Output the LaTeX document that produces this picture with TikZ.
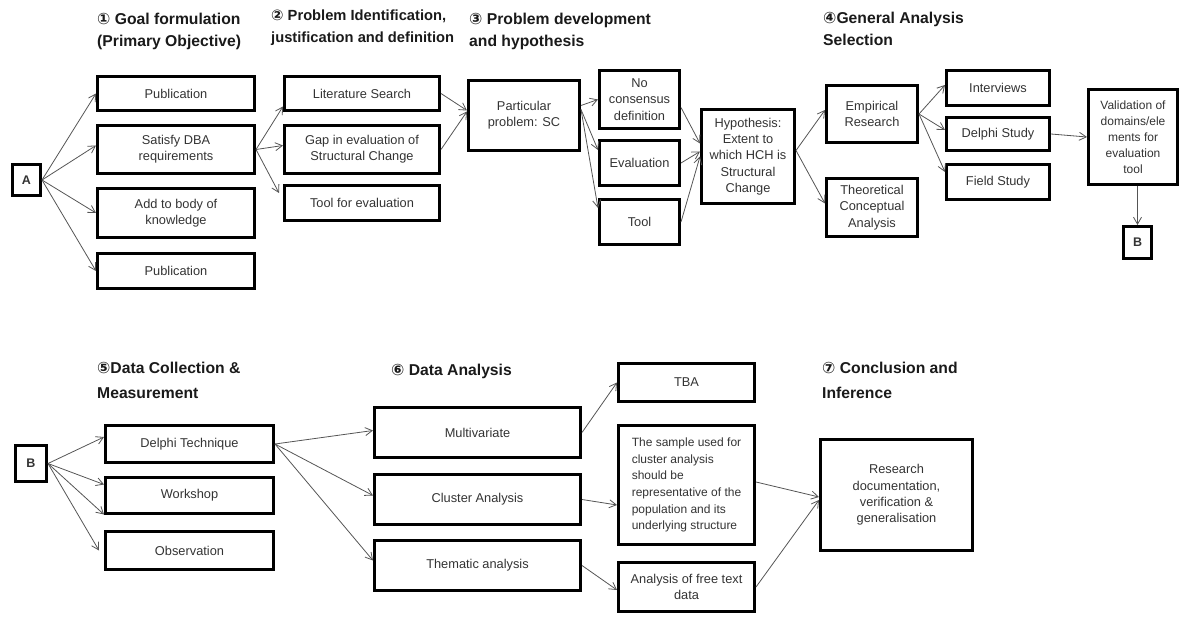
\documentclass[tikz,border=0pt]{standalone}
\usepackage{fontspec}
\setmainfont{Liberation Sans}
\newfontfamily\circfont{DejaVu Sans}
\usetikzlibrary{arrows.meta}
\definecolor{boxtext}{HTML}{333333}
\definecolor{headtext}{HTML}{1A1A1A}
\definecolor{linkgray}{HTML}{555555}
\newcommand{\cnum}[1]{{\circfont #1}}
\begin{document}
\begin{tikzpicture}[x=1pt,y=-1pt,
  box/.style={draw=black, line width=3pt, inner sep=2pt, align=center,
    text=boxtext, font=\fontsize{12.8}{16.3}\selectfont},
  heading/.style={anchor=north west, inner sep=0pt, align=left, text=headtext,
    font=\fontsize{15.7}{22}\selectfont\bfseries},
  lowheading/.style={heading, font=\fontsize{15.7}{25}\selectfont\bfseries},
  link/.style={draw=linkgray, line width=0.8pt,
    -{Straight Barb[length=7pt,width=8pt,line width=0.8pt]}}
]
\useasboundingbox (0,0) rectangle (1183,617);

% ---- stage headings
\node[heading] (h1) at (97,13)  {\cnum{①} Goal formulation\\(Primary Objective)};
\node[heading, font=\fontsize{14.7}{22}\selectfont\bfseries] (h2) at (271,10)  {\cnum{②} Problem Identification,\\justification and definition};
\node[heading] (h3) at (469,13) {\cnum{③} Problem development\\and hypothesis};
\node[heading] (h4) at (823,12) {\cnum{④}General Analysis\\Selection};
\node[lowheading] (h5) at (97,362) {\cnum{⑤}Data Collection \&\\Measurement};
\node[lowheading] (h6) at (391,364) {\cnum{⑥} Data Analysis};
\node[lowheading] (h7) at (822,362) {\cnum{⑦} Conclusion and\\Inference};

% ---- upper flow
\node[box, minimum width=28, minimum height=31, font=\fontsize{12.5}{16}\selectfont\bfseries] (A) at (26.5,180) {A};
\node[box, minimum width=157, minimum height=34] (pub1) at (176,93.5) {Publication};
\node[box, minimum width=157, minimum height=48] (dba) at (176,149.5) {Satisfy DBA\\requirements};
\node[box, minimum width=157, minimum height=49] (body) at (176,213) {Add to body of\\knowledge};
\node[box, minimum width=157, minimum height=35] (pub2) at (176,271) {Publication};

\node[box, minimum width=155, minimum height=34] (lit) at (362,93.5) {Literature Search};
\node[box, minimum width=155, minimum height=48] (gap) at (362,149.5) {Gap in evaluation of\\Structural Change};
\node[box, minimum width=155, minimum height=35] (toolev) at (362,203) {Tool for evaluation};

\node[box, minimum width=111, minimum height=70] (part) at (524,115.5) {Particular\\problem: SC};

\node[box, minimum width=80, minimum height=58] (nocons) at (639.5,99.5) {No\\consensus\\definition};
\node[box, minimum width=80, minimum height=45] (evalb) at (639.5,163) {Evaluation};
\node[box, minimum width=80, minimum height=45] (toolb) at (639.5,222) {Tool};

\node[box, minimum width=93, minimum height=94] (hyp) at (748,156.5) {Hypothesis:\\Extent to\\which HCH is\\Structural\\Change};

\node[box, minimum width=91, minimum height=57] (emp) at (872,114) {Empirical\\Research};
\node[box, minimum width=91, minimum height=58] (theo) at (872,207.5) {Theoretical\\Conceptual\\Analysis};

\node[box, minimum width=103, minimum height=35] (interv) at (998,88) {Interviews};
\node[box, minimum width=103, minimum height=33] (delphis) at (998,134) {Delphi Study};
\node[box, minimum width=103, minimum height=35] (field) at (998,182) {Field Study};

\node[box, minimum width=89, minimum height=95, font=\fontsize{12}{16}\selectfont] (valid) at (1133,137) {Validation of\\domains/ele\\ments for\\evaluation\\tool};
\node[box, minimum width=28, minimum height=32, font=\fontsize{12.5}{16}\selectfont\bfseries] (Btop) at (1137.5,242.5) {B};

% ---- lower flow
\node[box, minimum width=31, minimum height=36, font=\fontsize{12.5}{16}\selectfont\bfseries] (B) at (31,463.5) {B};
\node[box, minimum width=168, minimum height=37] (delphit) at (189.5,444) {Delphi Technique};
\node[box, minimum width=168, minimum height=36] (work) at (189.5,495.5) {Workshop};
\node[box, minimum width=168, minimum height=38] (obs) at (189.5,550.5) {Observation};

\node[box, minimum width=206, minimum height=50] (multi) at (477.5,432.5) {Multivariate};
\node[box, minimum width=206, minimum height=50] (cluster) at (477.5,499.5) {Cluster Analysis};
\node[box, minimum width=206, minimum height=50] (thema) at (477.5,565.5) {Thematic analysis};

\node[box, minimum width=136, minimum height=38] (tba) at (686.5,382.5) {TBA};
\node[box, minimum width=136, minimum height=119, align=left, font=\fontsize{12}{16.6}\selectfont] (sample) at (686.5,485) {The sample used for\\cluster analysis\\should be\\representative of the\\population and its\\underlying structure};
\node[box, minimum width=136, minimum height=49] (free) at (686.5,587) {Analysis of free text\\data};

\node[box, minimum width=152, minimum height=111] (research) at (896.5,495) {Research\\documentation,\\verification \&\\generalisation};

% ---- connectors, upper flow
\draw[link] (A.east) -- (pub1.west);
\draw[link] (A.east) -- ([yshift=4pt]dba.west);
\draw[link] (A.east) -- (body.west);
\draw[link] (A.east) -- (pub2.west);

\draw[link] (dba.east) -- ([yshift=-13pt]lit.west);
\draw[link] (dba.east) -- ([yshift=4pt]gap.west);
\draw[link] (dba.east) -- ([xshift=-4pt,yshift=10pt]toolev.west);

\draw[link] (lit.east) -- ([yshift=5pt]part.west);
\draw[link] (gap.east) -- ([yshift=4pt]part.west);

\draw[link] ([yshift=10pt]part.east) -- (nocons.west);
\draw[link] ([yshift=6pt]part.east) -- ([yshift=13pt]evalb.west);
\draw[link] ([yshift=6pt]part.east) -- ([yshift=14pt]toolb.west);

\draw[link] ([yshift=-8pt]nocons.east) -- ([yshift=13pt]hyp.west);
\draw[link] (evalb.east) -- ([yshift=5pt]hyp.west);
\draw[link] (toolb.east) -- (hyp.west);

\draw[link] ([yshift=6pt]hyp.east) -- ([yshift=4pt]emp.west);
\draw[link] ([yshift=6pt]hyp.east) -- ([yshift=4pt]theo.west);

\draw[link] (emp.east) -- ([yshift=3pt]interv.west);
\draw[link] (emp.east) -- ([yshift=4pt]delphis.west);
\draw[link] (emp.east) -- ([yshift=10pt]field.west);

\draw[link] (delphis.east) -- (valid.west);
\draw[link] (Btop.north |- valid.south) -- (Btop.north);

% ---- connectors, lower flow
\draw[link] (B.east) -- ([yshift=7pt]delphit.west);
\draw[link] (B.east) -- ([yshift=11pt]work.west);
\draw[link] (B.east) -- ([yshift=-19pt]work.west);
\draw[link] (B.east) -- ([xshift=-5pt]obs.west);

\draw[link] (delphit.east) -- ([yshift=2pt]multi.west);
\draw[link] (delphit.east) -- ([yshift=4pt]cluster.west);
\draw[link] (delphit.east) -- ([yshift=5pt]thema.west);

\draw[link] (multi.east) -- (tba.west);
\draw[link] (cluster.east) -- ([yshift=-20pt]sample.west);
\draw[link] (thema.east) -- ([yshift=-3pt]free.west);

\draw[link] ([yshift=3pt]sample.east) -- ([yshift=-2pt]research.west);
\draw[link] (free.east) -- ([yshift=-5pt]research.west);
\end{tikzpicture}
\end{document}
